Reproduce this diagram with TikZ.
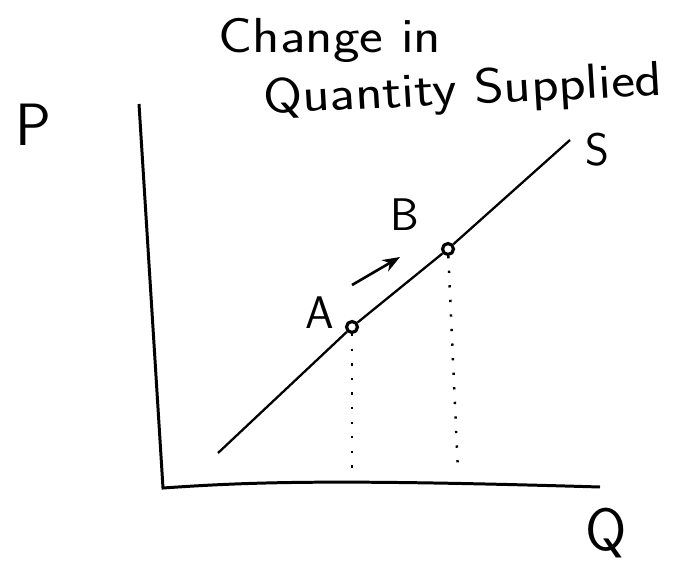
\documentclass[tikz,border=0pt]{standalone}
\usepackage{tikz}
\usetikzlibrary{arrows.meta, positioning}
\tikzset{
  axis/.style={line width=1.7pt, black},
  curve/.style={line width=1.3pt, black},
  pt/.style={circle, draw=black, fill=white, line width=1.8pt,
             minimum size=2.2mm, inner sep=0pt},
  guide/.style={dash pattern=on 1.3pt off 7pt, line width=1.4pt, black},
  move/.style={-{Stealth[length=3.5mm]}, line width=1.5pt, black},
  lbl/.style={font=\sffamily\fontsize{26}{28}\selectfont, inner sep=0pt},
  title/.style={font=\sffamily\fontsize{28}{30}\selectfont, inner sep=0pt,
                xscale=1.15, transform shape},
  big/.style={font=\sffamily\fontsize{34}{36}\selectfont, inner sep=0pt},
}

\begin{document}
\begin{tikzpicture}[x=0.02cm, y=-0.02cm]
  \useasboundingbox (0,0) rectangle (686,571);
  % axes
  \coordinate (ytop) at (139,104);
  \coordinate (origin) at (163,488);
  \coordinate (xend) at (600,487);
  \draw[axis] (ytop) -- (origin) .. controls (250,482) and (330,479) .. (xend);
  \node[big] (P) at (33,125) {P};
  \node[big] (Q) at (606,533) {Q};
  % supply curve
  \coordinate (s0) at (218,453);
  \node[pt] (A) at (352,327) {};
  \node[pt] (B) at (448,249) {};
  \coordinate (s1) at (570,140);
  \draw[curve] (s0) -- (A) -- (B) -- (s1);
  \node[lbl] (S) at (597,150) {S};
  % quantities at A and B
  \coordinate (qa) at (352,472);
  \coordinate (qb) at (458,472);
  \draw[guide] (A) -- (qa);
  \draw[guide] (B) -- (qb);
  % movement along the curve
  \node[lbl] (lA) at (320,313) {A};
  \node[lbl] (lB) at (405,215) {B};
  \coordinate (m0) at (352,285);
  \coordinate (m1) at (400,257);
  \draw[move] (m0) -- (m1);
  % title
  \node[title] (t1) at (330,40) {Change in};
  \node[title, rotate=3] (t2) at (463,92) {Quantity Supplied};
\end{tikzpicture}
\end{document}
